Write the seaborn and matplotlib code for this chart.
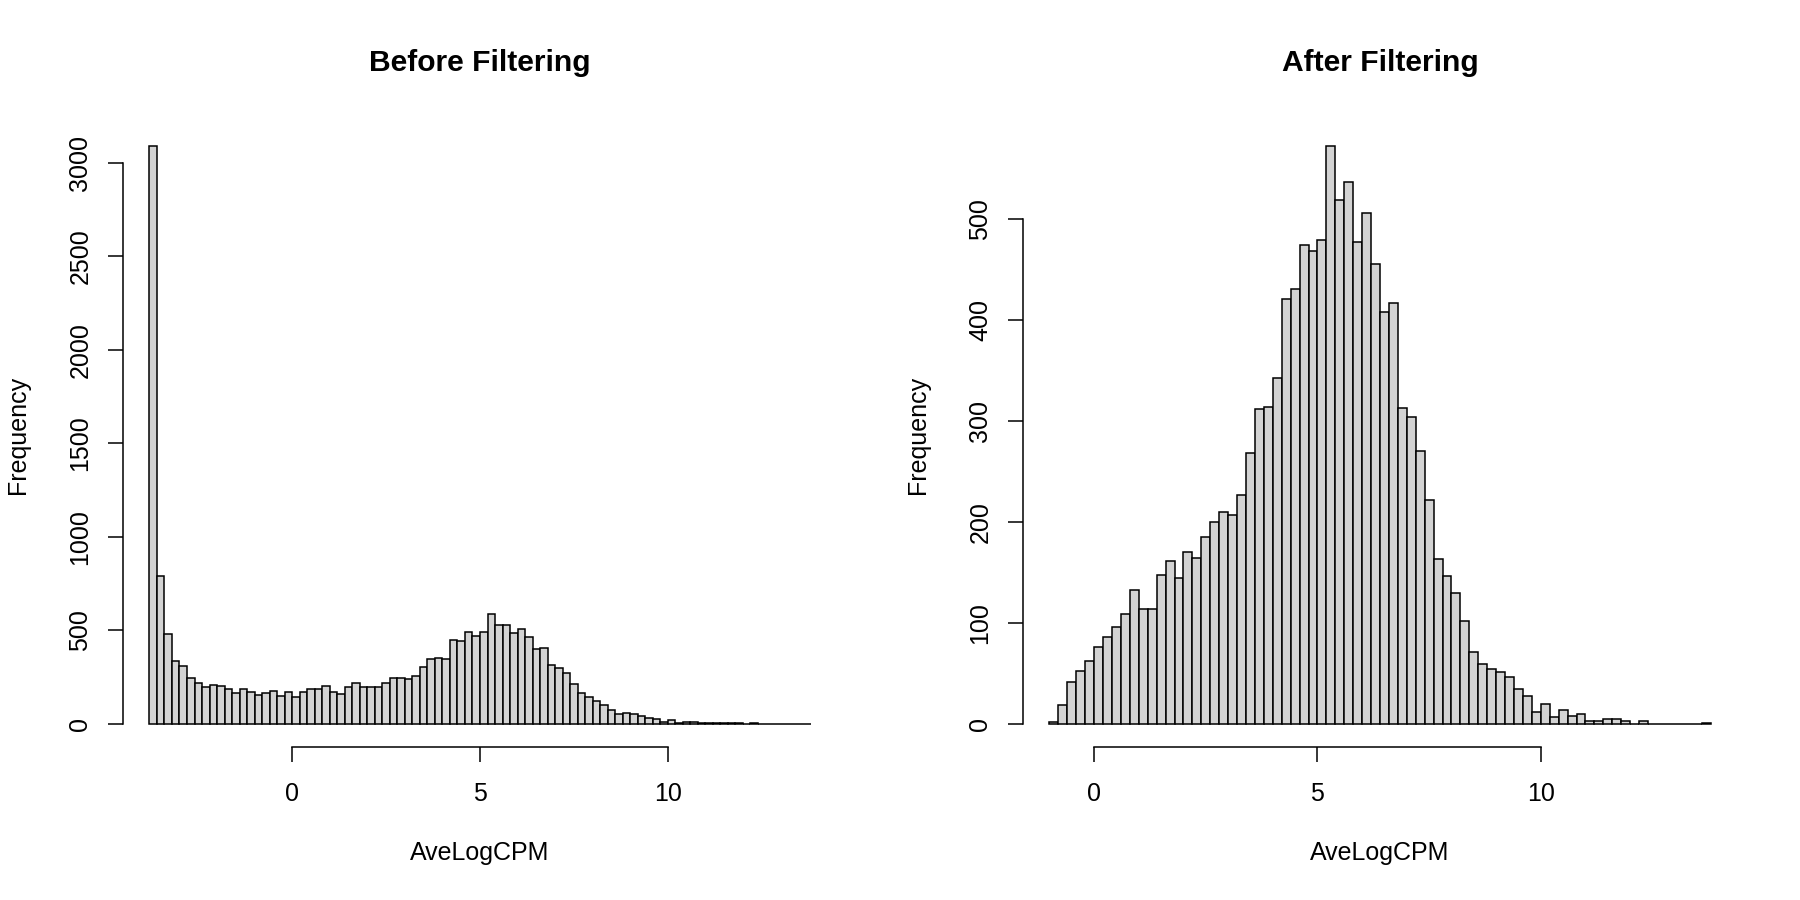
import numpy as np
import pandas as pd
import matplotlib
matplotlib.use("Agg")
import matplotlib.pyplot as plt
import seaborn as sns

# ---------------- data ----------------
bin_width = 0.2

before_start = -3.8
before_counts = [
    3090, 790, 479, 339, 311, 248, 220, 195, 207, 205,
    184, 166, 188, 171, 155, 163, 177, 150, 168, 143,
    171, 184, 189, 204, 171, 161, 198, 218, 195, 198,
    198, 218, 243, 246, 238, 255, 305, 345, 352, 348,
    448, 443, 489, 470, 489, 589, 530, 530, 484, 507,
    464, 400, 405, 313, 298, 271, 213, 164, 143, 125,
    102, 75, 52, 57, 52, 43, 34, 27, 11, 21,
    7, 12, 11, 7, 5, 5, 7, 7, 4, 2,
    5, 2, 1, 1, 1, 0, 1, 1,
]

after_start = -1.0
after_counts = [
    2, 19, 41, 52, 62, 76, 86, 96, 109, 133,
    114, 114, 147, 161, 144, 170, 164, 185, 200, 210,
    207, 227, 268, 312, 314, 342, 421, 431, 474, 468,
    479, 572, 519, 536, 477, 506, 455, 408, 417, 313,
    304, 270, 222, 163, 146, 130, 102, 71, 59, 54,
    51, 46, 35, 28, 12, 20, 7, 14, 8, 10,
    3, 3, 5, 5, 3, 0, 3, 0, 0, 0,
    0, 0, 0, 1,
]

titles = ["Before Filtering", "After Filtering"]
x_label = "AveLogCPM"
y_label = "Frequency"
x_ticks = [0, 5, 10]
y_ticks_before = [0, 500, 1000, 1500, 2000, 2500, 3000]
y_ticks_after = [0, 100, 200, 300, 400, 500]

# ---------------- style ----------------
sns.set_theme(style="ticks")
plt.rcParams["font.family"] = ["Liberation Sans", "DejaVu Sans"]
plt.rcParams["axes.linewidth"] = 1.1

W, H = 1800, 900
fig = plt.figure(figsize=(18, 9), dpi=100)
fig.patch.set_facecolor("white")

panels = [
    (before_start, before_counts, y_ticks_before, titles[0], 123),
    (after_start, after_counts, y_ticks_after, titles[1], 1023),
]

for start, counts, yt, title, left_px in panels:
    ax = fig.add_axes([left_px / W, 1 - 747 / H, 714 / W, 624 / H])
    n = len(counts)
    edges = [round(start + bin_width * i, 1) for i in range(n + 1)]
    centers = [(edges[i] + edges[i + 1]) / 2 for i in range(n)]
    df = pd.DataFrame({"AveLogCPM": centers, "count": counts})
    sns.histplot(data=df, x="AveLogCPM", weights="count", bins=edges, ax=ax,
                 color="#D3D3D3", edgecolor="black", linewidth=1.1, alpha=1.0)

    lo, hi = edges[0], edges[-1]
    xpad = 0.04 * (hi - lo)
    ax.set_xlim(lo - xpad, hi + xpad)
    ymax = max(counts)
    ax.set_ylim(-0.04 * ymax, 1.04 * ymax)

    for s in ["top", "right"]:
        ax.spines[s].set_visible(False)
    ax.spines["left"].set_bounds(yt[0], yt[-1])
    ax.spines["bottom"].set_bounds(x_ticks[0], x_ticks[-1])
    ax.spines["left"].set_color("black")
    ax.spines["bottom"].set_color("black")

    ax.set_xticks(x_ticks)
    ax.set_yticks(yt)
    ax.set_xticklabels([str(v) for v in x_ticks])
    ax.set_yticklabels([str(v) for v in yt])
    ax.tick_params(axis="both", direction="out", length=10.8, width=1.1,
                   color="black", labelsize=18, labelcolor="black")
    ax.tick_params(axis="x", pad=14.4)
    ax.tick_params(axis="y", pad=11.3)
    for lab in ax.get_yticklabels():
        lab.set_rotation(90)
        lab.set_va("center")
        lab.set_ha("right")

    ax.set_xlabel(x_label, fontsize=18, color="black", va="center")
    ax.xaxis.set_label_coords(0.5, (747 - 853) / 624)
    ax.set_ylabel(y_label, fontsize=18, color="black", va="center")
    ax.yaxis.set_label_coords(-0.1468, 0.5)
    ax.set_title(title, fontsize=21.6, fontweight="bold", color="black",
                 y=(747 - 63) / 624, va="center", pad=0)
    ax.grid(False)
    ax.set_facecolor("white")

fig.savefig("out.png", dpi=100, facecolor="white")
